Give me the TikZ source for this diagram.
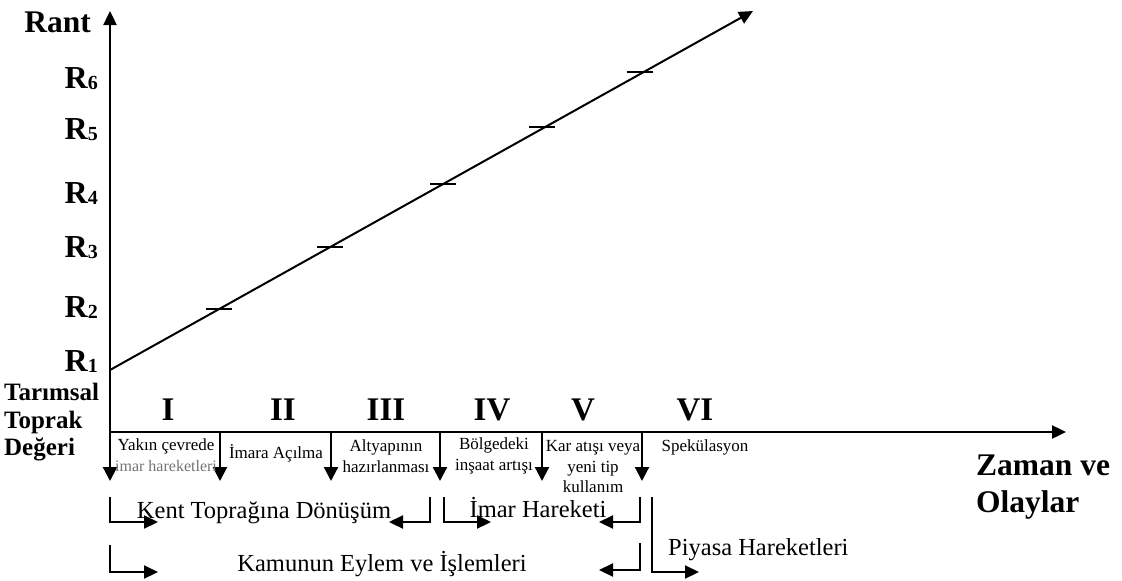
\documentclass[tikz,border=0pt]{standalone}
\usepackage{fontspec}
\setmainfont{Liberation Serif}
\usetikzlibrary{arrows.meta}

\begin{document}
\begin{tikzpicture}[x=1pt, y=-1pt,
  axis/.style={line width=2.4pt, -{Triangle[length=14pt,width=13pt]}},
  drop/.style={line width=2.2pt, -{Triangle[length=14pt,width=14pt]}},
  hook/.style={line width=2.2pt, -{Triangle[length=14pt,width=13pt]}},
  bigbold/.style={font=\fontsize{31.5}{32}\selectfont\bfseries, inner sep=0pt},
  rlabel/.style={font=\fontsize{32}{32}\selectfont\bfseries, inner sep=0pt, anchor=base east},
  roman/.style={font=\fontsize{33}{33}\selectfont\bfseries, inner sep=0pt, anchor=base},
  event/.style={font=\fontsize{17}{20.5}\selectfont, inner sep=0pt, align=center},
  phase/.style={font=\fontsize{24.5}{25}\selectfont, inner sep=0pt, anchor=base}]
  \useasboundingbox (0,0) rectangle (1122,581);

  \coordinate (O)    at (110, 432);
  \coordinate (ytop) at (110, 11);
  \coordinate (xend) at (1066, 432);
  \coordinate (R1)   at (110, 370);
  \coordinate (lend) at (753, 11);

  % eksenler
  \draw[axis] (O) -- (ytop);
  \draw[axis] (O) -- (xend);
  \draw[line width=2pt, -{Triangle[length=14pt,width=13pt]}] (R1) -- (lend);

  % rant artisi
  \foreach \x/\y in {219/309, 330/247, 443/184, 542/127, 640/72}
    \draw[line width=2pt] (\x-13, \y) -- (\x+13, \y);

  \node[bigbold, anchor=base east] (rant) at (91, 32) {Rant};
  \foreach \i/\y in {6/88, 5/139, 4/203, 3/257, 2/317, 1/371}
    \node[rlabel] (r\i) at (98, \y) {R{\fontsize{20}{20}\selectfont\raisebox{-1.5pt}{\i}}};

  \node[font=\fontsize{25}{27.5}\selectfont\bfseries, inner sep=0pt, align=left,
        anchor=north west] (tarim) at (4, 383) {Tarımsal\\Toprak\\Değeri};

  \node[bigbold, align=left, anchor=north west,
        font=\fontsize{31.5}{37}\selectfont\bfseries] (zaman) at (976, 455) {Zaman ve\\Olaylar};

  % evreler
  \foreach \i/\n/\x in {1/I/168, 2/II/283, 3/III/386, 4/IV/492, 5/V/583, 6/VI/695}
    \node[roman] (ph\i) at (\x, 420) {\n};

  % olaylara inen oklar
  \foreach \i/\x in {1/110, 2/220, 3/331, 4/440, 5/542, 6/642} {
    \coordinate (t\i) at (\x, 432);
    \coordinate (b\i) at (\x, 481);
    \draw[drop] (t\i) -- (b\i);
  }

  \node[event] (ev1) at (166, 455) {Yakın çevrede\\{\fontsize{16}{18}\selectfont\color{black!55}imar hareketleri}};
  \node[event] (ev2) at (276, 453) {İmara Açılma};
  \node[event] (ev3) at (386, 456) {Altyapının\\hazırlanması};
  \node[event] (ev4) at (494, 456) {Bölgedeki\\inşaat artışı};
  \node[event] (ev5) at (593, 467) {Kar atışı veya\\yeni tip\\kullanım};
  \node[event] (ev6) at (705, 447) {Spekülasyon};

  % kent topragina donusum
  \coordinate (k1) at (110, 497);  \coordinate (k2) at (110, 522);  \coordinate (k3) at (158, 522);
  \coordinate (k4) at (430, 497);  \coordinate (k5) at (430, 522);  \coordinate (k6) at (389, 522);
  \draw[hook] (k1) -- (k2) -- (k3);
  \draw[hook] (k4) -- (k5) -- (k6);
  \node[phase] (kent) at (264, 518) {Kent Toprağına Dönüşüm};

  % imar hareketi
  \coordinate (i1) at (444, 497);  \coordinate (i2) at (444, 522);  \coordinate (i3) at (491, 522);
  \coordinate (i4) at (640, 497);  \coordinate (i5) at (640, 522);  \coordinate (i6) at (599, 522);
  \draw[hook] (i1) -- (i2) -- (i3);
  \draw[hook] (i4) -- (i5) -- (i6);
  \node[phase] (imar) at (538, 517) {İmar Hareketi};

  % kamunun eylem ve islemleri
  \coordinate (e1) at (110, 545);  \coordinate (e2) at (110, 572);  \coordinate (e3) at (158, 572);
  \coordinate (e4) at (640, 543);  \coordinate (e5) at (640, 570);  \coordinate (e6) at (599, 570);
  \draw[hook] (e1) -- (e2) -- (e3);
  \draw[hook] (e4) -- (e5) -- (e6);
  \node[phase] (kamu) at (382, 571) {Kamunun Eylem ve İşlemleri};

  % piyasa hareketleri
  \coordinate (p1) at (652, 497);  \coordinate (p2) at (652, 572);  \coordinate (p3) at (699, 572);
  \draw[hook] (p1) -- (p2) -- (p3);
  \node[phase, anchor=base west] (piyasa) at (668, 555) {Piyasa Hareketleri};
\end{tikzpicture}
\end{document}
